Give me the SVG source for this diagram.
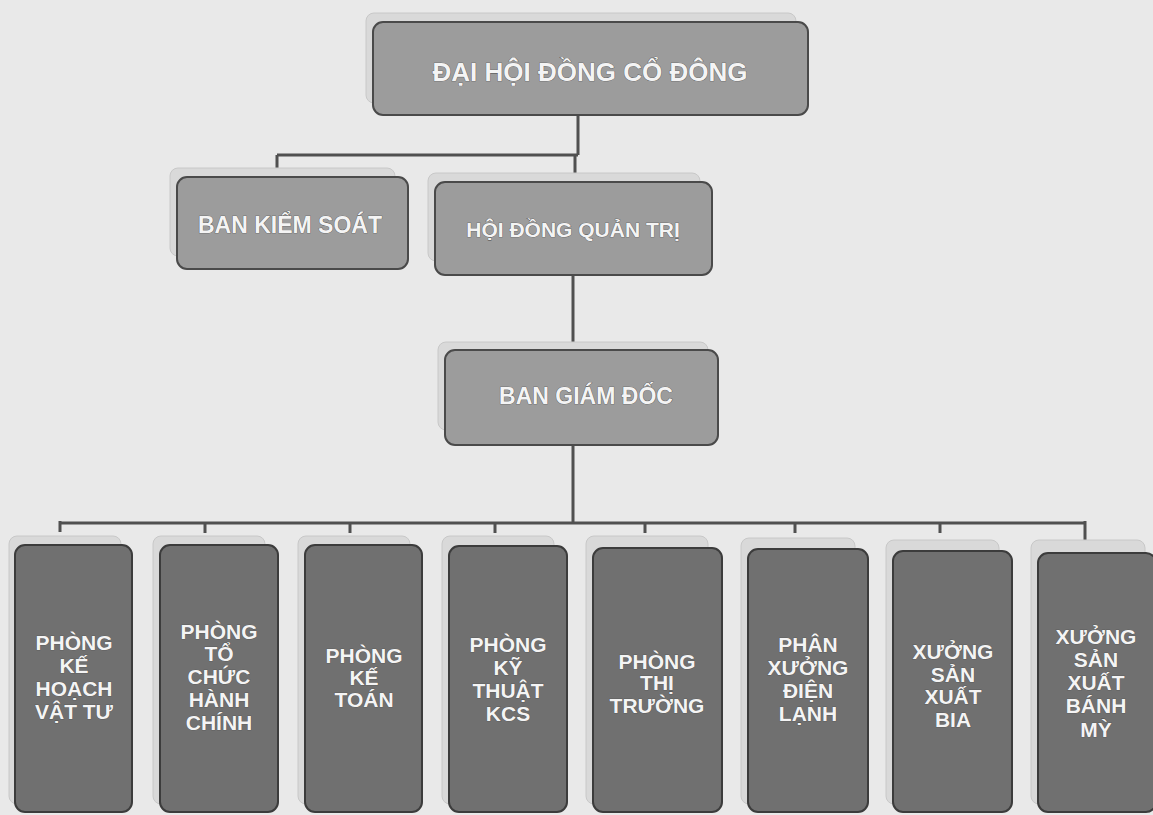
<svg xmlns="http://www.w3.org/2000/svg" width="1153" height="815" viewBox="0 0 1153 815">
<defs>
<style>
.bg{fill:#e9e9e9}
.shadow{fill:#d9d9d9;stroke:#c8c8c8;stroke-width:1}
.top{fill:#9c9c9c;stroke:#4a4a4a;stroke-width:2}
.dept{fill:#707070;stroke:#3c3c3c;stroke-width:2}
.t{font-family:"Liberation Sans",Arial,sans-serif;fill:#f4f4f4;stroke:#4a4a4a;stroke-width:0.7;paint-order:stroke;text-anchor:middle;font-weight:bold}
.tl{font-size:26px}
.tm{font-size:22px}
.tb{font-size:21px}
.conn{fill:none;stroke:#505050;stroke-width:3}
</style>
</defs>
<rect class="bg" x="0" y="0" width="1153" height="815"/>
<g id="connectors">
<path class="conn" d="M578 115 V155 M277 155 H578 M277 155 V178 M575 155 V183"/>
<path class="conn" d="M573 275 V350"/>
<path class="conn" d="M573 445 V523 M60 523 H1086 M60 521 V532 M205 523 V533 M350 523 V533 M495 523 V533 M645 523 V533 M795 523 V533 M940 523 V533 M1085 521 V540"/>
</g>
<g id="dhdcd">
<rect class="shadow" x="366" y="13" width="430" height="90" rx="8"/>
<rect class="top" x="373" y="22" width="435" height="93" rx="10"/>
<text class="t tl" x="590" y="81">ĐẠI HỘI ĐỒNG CỔ ĐÔNG</text>
</g>
<g id="bks">
<rect class="shadow" x="170" y="168" width="225" height="88" rx="8"/>
<rect class="top" x="177" y="177" width="231" height="92" rx="10"/>
<text class="t" x="290" y="233" font-size="23">BAN KIỂM SOÁT</text>
</g>
<g id="hdqt">
<rect class="shadow" x="428" y="173" width="272" height="88" rx="8"/>
<rect class="top" x="435" y="182" width="277" height="93" rx="10"/>
<text class="t" x="573" y="237" font-size="21">HỘI ĐỒNG QUẢN TRỊ</text>
</g>
<g id="bgd">
<rect class="shadow" x="438" y="342" width="270" height="88" rx="8"/>
<rect class="top" x="445" y="350" width="273" height="95" rx="10"/>
<text class="t" x="586" y="404" font-size="23">BAN GIÁM ĐỐC</text>
</g>
<g id="d1">
<rect class="shadow" x="9" y="536" width="112" height="268" rx="8"/>
<rect class="dept" x="15" y="545" width="117" height="267" rx="10"/>
<text class="t tb" x="74" y="650">PHÒNG<tspan x="74" dy="23">KẾ</tspan><tspan x="74" dy="23">HOẠCH</tspan><tspan x="74" dy="23">VẬT TƯ</tspan></text>
</g>
<g id="d2">
<rect class="shadow" x="153" y="536" width="112" height="268" rx="8"/>
<rect class="dept" x="160" y="545" width="118" height="267" rx="10"/>
<text class="t tb" x="219" y="639">PHÒNG<tspan x="219" dy="22">TỔ</tspan><tspan x="219" dy="23">CHỨC</tspan><tspan x="219" dy="23">HÀNH</tspan><tspan x="219" dy="23">CHÍNH</tspan></text>
</g>
<g id="d3">
<rect class="shadow" x="298" y="536" width="112" height="268" rx="8"/>
<rect class="dept" x="305" y="545" width="117" height="267" rx="10"/>
<text class="t tb" x="364" y="663">PHÒNG<tspan x="364" dy="22">KẾ</tspan><tspan x="364" dy="22">TOÁN</tspan></text>
</g>
<g id="d4">
<rect class="shadow" x="442" y="536" width="112" height="268" rx="8"/>
<rect class="dept" x="449" y="546" width="118" height="266" rx="10"/>
<text class="t tb" x="508" y="652">PHÒNG<tspan x="508" dy="23">KỸ</tspan><tspan x="508" dy="23">THUẬT</tspan><tspan x="508" dy="23">KCS</tspan></text>
</g>
<g id="d5">
<rect class="shadow" x="586" y="536" width="122" height="268" rx="8"/>
<rect class="dept" x="593" y="548" width="129" height="264" rx="10"/>
<text class="t tb" x="657" y="669">PHÒNG<tspan x="657" dy="21">THỊ</tspan><tspan x="657" dy="23">TRƯỜNG</tspan></text>
</g>
<g id="d6">
<rect class="shadow" x="741" y="538" width="114" height="266" rx="8"/>
<rect class="dept" x="748" y="549" width="120" height="263" rx="10"/>
<text class="t tb" x="808" y="652">PHÂN<tspan x="808" dy="23">XƯỞNG</tspan><tspan x="808" dy="23">ĐIỆN</tspan><tspan x="808" dy="23">LẠNH</tspan></text>
</g>
<g id="d7">
<rect class="shadow" x="886" y="540" width="113" height="264" rx="8"/>
<rect class="dept" x="893" y="551" width="119" height="261" rx="10"/>
<text class="t tb" x="953" y="659">XƯỞNG<tspan x="953" dy="23">SẢN</tspan><tspan x="953" dy="22">XUẤT</tspan><tspan x="953" dy="23">BIA</tspan></text>
</g>
<g id="d8">
<rect class="shadow" x="1031" y="540" width="114" height="264" rx="8"/>
<rect class="dept" x="1038" y="553" width="118" height="259" rx="10"/>
<text class="t tb" x="1096" y="644">XƯỞNG<tspan x="1096" dy="23">SẢN</tspan><tspan x="1096" dy="23">XUẤT</tspan><tspan x="1096" dy="23">BÁNH</tspan><tspan x="1096" dy="24">MỲ</tspan></text>
</g>
</svg>
